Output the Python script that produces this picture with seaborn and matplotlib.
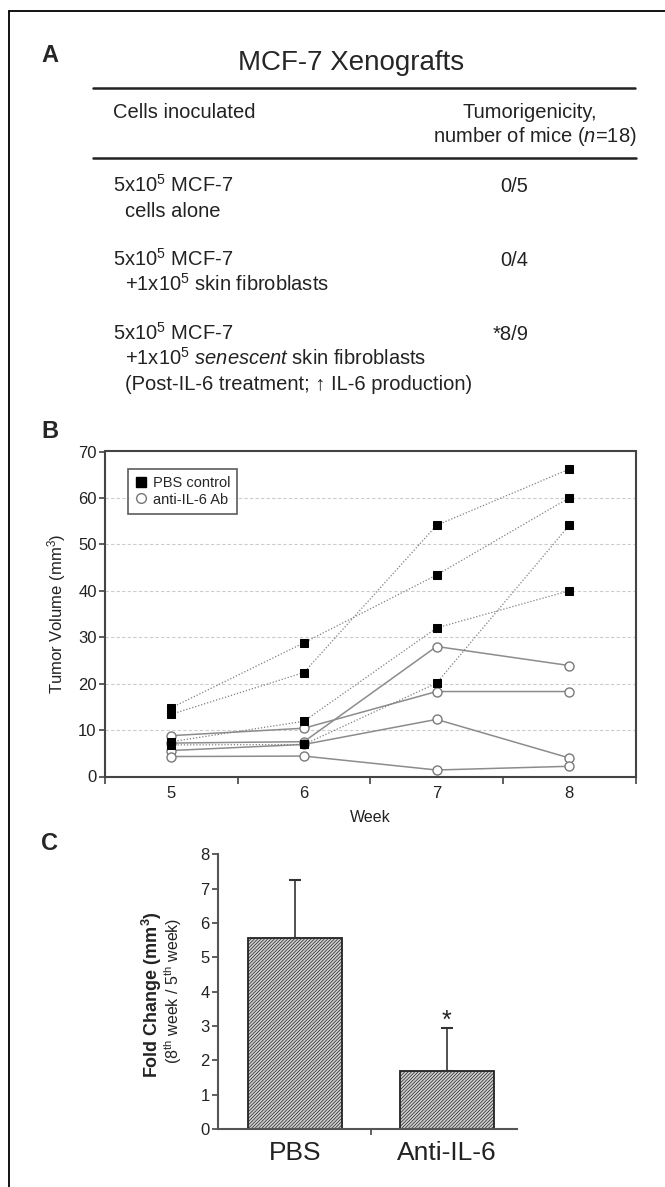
import matplotlib
matplotlib.use('Agg')
import matplotlib.pyplot as plt
from matplotlib.lines import Line2D
import numpy as np
import pandas as pd
import seaborn as sns

# panel A table
row_names = [r"5x$\mathregular{10^{5}}$ MCF-7", r"5x$\mathregular{10^{5}}$ MCF-7", r"5x$\mathregular{10^{5}}$ MCF-7"]
row_details = [["cells alone"],
               [r"+1x$\mathregular{10^{5}}$ skin fibroblasts"],
               [r"+1x$\mathregular{10^{5}}$ $\mathit{senescent}$ skin fibroblasts",
                "(Post-IL-6 treatment; \u2191 IL-6 production)"]]
tumorigenicity = ["0/5", "0/4", "*8/9"]

# panel B: tumor volume (mm3) per mouse
weeks = [5, 6, 7, 8]
pbs_1 = [14.8, 28.8, 43.4, 60.0]
pbs_2 = [13.4, 22.4, 54.1, 66.2]
pbs_3 = [7.5, 11.9, 32.0, 40.0]
pbs_4 = [6.8, 6.9, 20.1, 54.1]
ab_1 = [8.8, 10.4, 18.3, 18.3]
ab_2 = [7.2, 7.5, 28.0, 23.9]
ab_3 = [5.6, 6.9, 12.3, 4.0]
ab_4 = [4.3, 4.4, 1.4, 2.2]

# panel C: fold change
groups = ["PBS", "Anti-IL-6"]
fold_mean = [5.57, 1.68]
fold_sd = [1.70, 1.25]

sns.set_style("ticks")
plt.rcParams['font.family'] = ['Liberation Sans', 'DejaVu Sans']
plt.rcParams['mathtext.fontset'] = 'custom'
plt.rcParams['mathtext.rm'] = 'Liberation Sans'
plt.rcParams['mathtext.it'] = 'Liberation Sans:italic'
plt.rcParams['mathtext.bf'] = 'Liberation Sans:bold'
plt.rcParams['hatch.color'] = '#5a5a5a'
plt.rcParams['hatch.linewidth'] = 0.5

W, H = 665, 1187
fig = plt.figure(figsize=(W / 100, H / 100), dpi=100)

def fx(px):
    return px / W

def fy(px):
    return 1 - px / H

# outer frame (cropped box)
fig.add_artist(Line2D([fx(9), 1], [fy(11), fy(11)], color='black', lw=1.3))
fig.add_artist(Line2D([fx(9), fx(9)], [fy(11), 0], color='black', lw=1.3))

# ---- panel A ----
fig.text(fx(41), fy(55), "A", fontsize=17, fontweight='bold', va='center')
fig.text(fx(351), fy(70), "MCF-7 Xenografts", fontsize=20, ha='center', va='baseline')
fig.add_artist(Line2D([fx(93), fx(635)], [fy(88), fy(88)], color='#222222', lw=1.8))
fig.add_artist(Line2D([fx(93), fx(636)], [fy(158), fy(158)], color='#222222', lw=1.8))
fs = 14.5
fig.text(fx(113), fy(118), "Cells inoculated", fontsize=fs, va='baseline', color='#222222')
fig.text(fx(530), fy(118), "Tumorigenicity,", fontsize=fs, ha='center', va='baseline', color='#222222')
fig.text(fx(535), fy(142), r"number of mice ($\mathit{n}$=18)", fontsize=fs, ha='center', va='baseline', color='#222222')
row_y = [185, 259, 333]
for i in range(3):
    y0 = row_y[i]
    fig.text(fx(113), fy(y0 + 7), row_names[i], fontsize=fs, va='baseline', color='#222222')
    for j, line in enumerate(row_details[i]):
        fig.text(fx(125), fy(y0 + 32 + 25 * j), line, fontsize=fs, va='baseline', color='#222222')
    fig.text(fx(514) if i < 2 else fx(511), fy(y0 + 7), tumorigenicity[i], fontsize=fs,
             ha='center', va='baseline', color='#222222')

# ---- panel B ----
rows = []
for name, vals in [("p1", pbs_1), ("p2", pbs_2), ("p3", pbs_3), ("p4", pbs_4)]:
    for w, v in zip(weeks, vals):
        rows.append({"week": w, "volume": v, "mouse": name, "group": "PBS control"})
for name, vals in [("a1", ab_1), ("a2", ab_2), ("a3", ab_3), ("a4", ab_4)]:
    for w, v in zip(weeks, vals):
        rows.append({"week": w, "volume": v, "mouse": name, "group": "anti-IL-6 Ab"})
df = pd.DataFrame(rows)

axB = fig.add_axes([fx(105), fy(776.5), fx(635.5) - fx(105), fy(451.5) - fy(776.5)])
for yv in range(10, 70, 10):
    axB.axhline(yv, color='#cccccc', lw=0.8, ls=(0, (3, 2)), zorder=0)
sns.lineplot(data=df[df.group == "anti-IL-6 Ab"], x="week", y="volume", units="mouse",
             estimator=None, color='#8c8c8c', lw=1.1, marker='o', markersize=6.5,
             markerfacecolor='white', markeredgecolor='#7a7a7a', markeredgewidth=1.0,
             ax=axB, legend=False, zorder=2)
sns.lineplot(data=df[df.group == "PBS control"], x="week", y="volume", units="mouse",
             estimator=None, color='#808080', lw=0.9, linestyle=(0, (1, 1.5)), marker='s',
             markersize=5.5, markerfacecolor='black', markeredgecolor='black',
             ax=axB, legend=False, zorder=3)
axB.set_xlim(4.5, 8.5)
axB.set_ylim(0, 70)
axB.set_xticks(weeks)
axB.set_xticks([4.5, 5.5, 6.5, 7.5, 8.5], minor=True)
axB.set_yticks(range(0, 80, 10))
axB.tick_params(axis='x', which='major', length=0, pad=7, labelsize=12, labelcolor='#222222')
axB.tick_params(axis='x', which='minor', length=5, width=1.2, color='#444444', direction='out')
axB.tick_params(axis='y', length=4, width=1.2, color='#444444', pad=2, labelsize=12, labelcolor='#222222')
for sp in axB.spines.values():
    sp.set_visible(True)
    sp.set_color('#444444')
    sp.set_linewidth(1.5)
axB.set_xlabel("Week", fontsize=11.5, labelpad=6, color='#222222')
axB.set_ylabel(r"Tumor Volume (mm$\mathregular{^{3}}$)", fontsize=12, labelpad=7, color='#222222')
handles = [Line2D([], [], ls='none', marker='s', markersize=7, markerfacecolor='black', markeredgecolor='black'),
           Line2D([], [], ls='none', marker='o', markersize=7, markerfacecolor='white', markeredgecolor='#777777')]
leg = axB.legend(handles, ["PBS control", "anti-IL-6 Ab"], loc='upper left', bbox_to_anchor=(0.043, 0.946),
                 borderaxespad=0, fontsize=10.5, frameon=True, fancybox=False, handlelength=0.8,
                 handletextpad=0.4, labelspacing=0.15, borderpad=0.5)
leg.get_frame().set_edgecolor('#333333')
leg.get_frame().set_linewidth(1.2)
fig.text(fx(41), fy(432), "B", fontsize=17, fontweight='bold', va='center')

# ---- panel C ----
axC = fig.add_axes([fx(218), fy(1128.8), fx(516.5) - fx(218), fy(854.5) - fy(1128.8)])
dfc = pd.DataFrame({"group": groups, "fold": fold_mean})
sns.barplot(data=dfc, x="group", y="fold", color='#cfcfcf', edgecolor='#222222', linewidth=1.3,
            width=0.62, ax=axC, saturation=1, errorbar=None)
for p in axC.patches:
    p.set_hatch('//////////')
axC.errorbar(x=[0, 1], y=fold_mean, yerr=[[0, 0], fold_sd], fmt='none', ecolor='#333333',
             elinewidth=1.2, capsize=4, capthick=1.5, zorder=1)
axC.text(1, fold_mean[1] + fold_sd[1] + 0.02, "*", fontsize=18, ha='center', va='baseline', color='#222222')
axC.set_xlim(-0.51, 1.46)
axC.set_ylim(0, 8)
axC.set_yticks(range(0, 9))
axC.set_xticks([0.5], minor=True)
axC.tick_params(axis='x', which='major', length=0, pad=9, labelsize=19, labelcolor='#222222')
axC.tick_params(axis='x', which='minor', length=4, width=1.2, color='#444444', direction='out')
axC.tick_params(axis='y', length=4, width=1.2, color='#444444', pad=2, labelsize=12, labelcolor='#222222')
sns.despine(ax=axC)
for s in ['left', 'bottom']:
    axC.spines[s].set_color('#555555')
    axC.spines[s].set_linewidth(1.5)
axC.set_xlabel("")
axC.set_ylabel("")
fig.text(fx(152), fy(995), r"Fold Change (mm$\mathbf{^{3}}$)", fontsize=13, fontweight='bold',
         rotation=90, ha='center', va='center', color='#222222')
fig.text(fx(173), fy(991), r"(8$\mathregular{^{th}}$ week / 5$\mathregular{^{th}}$ week)", fontsize=11.5,
         rotation=90, ha='center', va='center', color='#222222')
fig.text(fx(41), fy(843), "C", fontsize=17, fontweight='bold', va='center')

fig.savefig("out.png", dpi=100, facecolor='white')
